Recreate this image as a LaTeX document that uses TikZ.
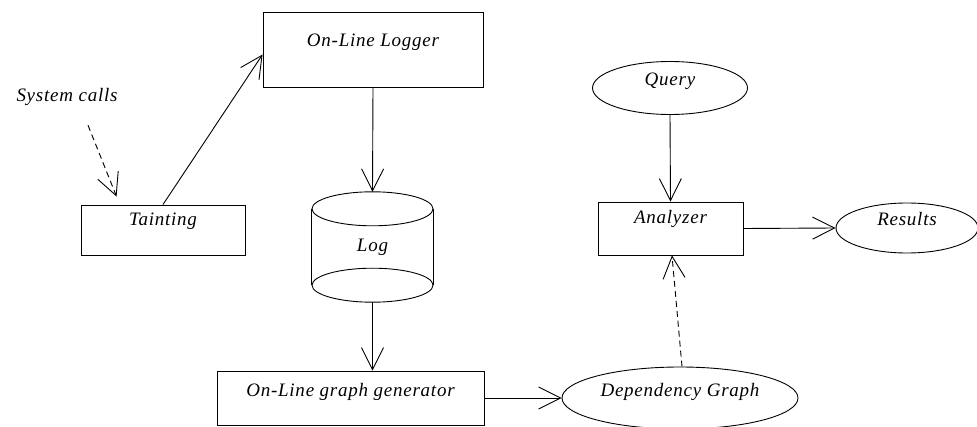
\documentclass[tikz,border=0pt]{standalone}
\usepackage{fontspec}
\setmainfont{Liberation Serif}
\newfontfamily\lblfamily[LetterSpace=4]{Liberation Serif}
\usepackage{tikz}
\usetikzlibrary{positioning,arrows.meta,calc,shapes.geometric}
\newcommand{\lbl}{\lblfamily\fontsize{19}{22}\selectfont\itshape}
\tikzset{
  procbox/.style={draw, line width=0.9pt, rectangle, inner xsep=0pt, inner ysep=0pt, font=\lbl},
  ovalnode/.style={draw, line width=0.9pt, ellipse, inner sep=0pt, font=\lbl, text height=11pt, text depth=15pt},
  flowarr/.style={-{Straight Barb[length=22pt,width=22pt,line width=0.9pt]}, line width=0.9pt},
  dasharr/.style={flowarr, dash pattern=on 6pt off 4pt}
}

\begin{document}
\begin{tikzpicture}[x=1pt,y=1pt]
\useasboundingbox (0,0) rectangle (977,426);
% processing steps
\node[font=\lbl] (sys) at (67,329) {System calls};
\node[procbox, minimum width=164pt, minimum height=50pt, text height=21pt, text depth=29pt] (taint) at (163,196) {Tainting};
\node[procbox, minimum width=220pt, minimum height=75pt, text height=35pt, text depth=40pt] (logger) at (373,376.5) {On-Line Logger};
\node[procbox, minimum width=267pt, minimum height=54pt, text height=25pt, text depth=29pt] (gen) at (350.5,28) {On-Line graph generator};
\node[procbox, minimum width=145pt, minimum height=53pt, text height=22pt, text depth=31pt] (analyzer) at (670.5,197.5) {Analyzer};
% log store drawn as a drum
\node[minimum width=121pt, minimum height=110pt, inner sep=0pt, font=\lbl] (log) at (372.5,179) {Log};
\draw[line width=0.9pt] ($(log.north)+(0,-17)$) ellipse [x radius=60.5pt, y radius=17pt];
\draw[line width=0.9pt] ($(log.south)+(0,17)$) ellipse [x radius=60.5pt, y radius=17pt];
\draw[line width=0.9pt] ($(log.north west)+(0,-17)$) -- ($(log.south west)+(0,17)$)
                        ($(log.north east)+(0,-17)$) -- ($(log.south east)+(0,17)$);
% ovals
\node[ovalnode, minimum width=155pt, minimum height=53pt] (query) at (670,338) {Query};
\node[ovalnode, minimum width=142pt, minimum height=50pt] (results) at (907,198) {Results};
\node[ovalnode, minimum width=236pt, minimum height=62pt] (dep) at (680,28) {Dependency Graph};
% connectors
\draw[dasharr] ([xshift=21pt,yshift=-16pt]sys.south) -- ([xshift=36pt,yshift=8pt]taint.north west);
\draw[flowarr] (taint.north) -- ([yshift=-5pt]logger.west);
\draw[flowarr] (logger.south) -- (log.north);
\draw[flowarr] (log.south) -- (log.south |- gen.north);
\draw[flowarr] (gen.east) -- (dep.west);
\draw[dasharr] ([xshift=2pt]dep.north) -- ([xshift=1.5pt]analyzer.south);
\draw[flowarr] (query.south) -- (analyzer.north);
\draw[flowarr] (analyzer.east) -- (results.west);
\end{tikzpicture}
\end{document}
